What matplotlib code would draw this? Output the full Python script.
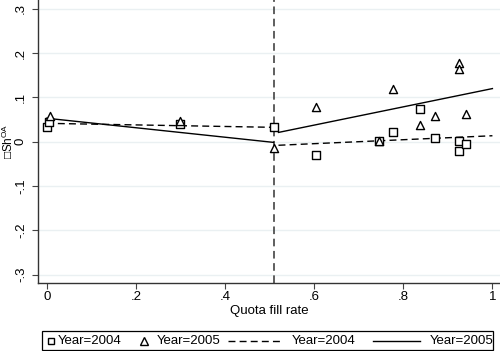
import matplotlib
matplotlib.use("Agg")
import matplotlib.pyplot as plt
from matplotlib.lines import Line2D
from matplotlib.patches import Rectangle

plt.rcParams['font.family'] = ['Liberation Sans', 'DejaVu Sans']
plt.rcParams['mathtext.fontset'] = 'custom'
plt.rcParams['mathtext.rm'] = 'Liberation Sans'
plt.rcParams['mathtext.it'] = 'Liberation Sans'
plt.rcParams['mathtext.default'] = 'regular'

# Data
x_2004 = [0.0, 0.005, 0.30, 0.509, 0.604, 0.745, 0.777, 0.838, 0.871, 0.925, 0.925, 0.941]
y_2004 = [0.034, 0.045, 0.039, 0.034, -0.031, 0.001, 0.023, 0.075, 0.009, 0.0015, -0.021, -0.006]
x_2005 = [0.0075, 0.30, 0.509, 0.604, 0.745, 0.777, 0.838, 0.871, 0.925, 0.925, 0.941]
y_2005 = [0.058, 0.047, -0.014, 0.078, 0.001, 0.119, 0.038, 0.059, 0.177, 0.164, 0.062]

fit04_left_x = [0.0, 0.509]
fit04_left_y = [0.0415, 0.0325]
fit04_right_x = [0.52, 1.0]
fit04_right_y = [-0.008, 0.0135]
fit05_left_x = [0.0, 0.509]
fit05_left_y = [0.053, -0.0015]
fit05_right_x = [0.52, 1.0]
fit05_right_y = [0.021, 0.120]

cutoff = 0.511
xticks = [0, 0.2, 0.4, 0.6, 0.8, 1.0]
xticklabels = ['0', '.2', '.4', '.6', '.8', '1']
yticks = [-0.3, -0.2, -0.1, 0, 0.1, 0.2, 0.3]
yticklabels = ['-.3', '-.2', '-.1', '0', '.1', '.2', '.3']

FS = 9.5
W, H = 500, 351
fig = plt.figure(figsize=(W / 100, H / 100), dpi=100)
ax = fig.add_axes([38 / W, 1 - 283 / H, (500 - 38) / W, 283 / H])

for yv in yticks:
    ax.axhline(yv, color='#eaf0f2', lw=1.0, zorder=0)

ax.axvline(cutoff, color='#333333', lw=1.1, dashes=(5, 3), zorder=1)

ax.plot(fit04_left_x, fit04_left_y, color='black', lw=1.0, dashes=(5, 3), zorder=2)
ax.plot(fit04_right_x, fit04_right_y, color='black', lw=1.0, dashes=(5, 3), zorder=2)
ax.plot(fit05_left_x, fit05_left_y, color='black', lw=1.0, zorder=2)
ax.plot(fit05_right_x, fit05_right_y, color='black', lw=1.0, zorder=2)

ax.scatter(x_2004, y_2004, marker='s', s=28, facecolors='white', edgecolors='black', linewidths=1.0, zorder=3)
ax.scatter(x_2005, y_2005, marker='^', s=34, facecolors='white', edgecolors='black', linewidths=1.0, zorder=3)

ax.set_xlim(-0.0196, 1.017)
ax.set_ylim(-0.319, 0.32)
ax.set_xticks(xticks)
ax.set_xticklabels(xticklabels, fontsize=FS)
ax.set_yticks(yticks)
ax.set_yticklabels(yticklabels, fontsize=FS, rotation=90, va='center')
ax.tick_params(direction='out', length=4, width=0.8, color='#444444')
ax.tick_params(axis='x', pad=2)
ax.tick_params(axis='y', pad=4)
for s in ['top', 'right']:
    ax.spines[s].set_visible(False)
for s in ['left', 'bottom']:
    ax.spines[s].set_color('#333333')
    ax.spines[s].set_linewidth(1.0)

ax.set_xlabel('Quota fill rate', fontsize=FS)
ax.xaxis.set_label_coords(0.5, (283 - 311) / 283, transform=ax.transAxes)
ax.xaxis.label.set_va('center')
ax.set_ylabel('\u25a1Sh$^{OA}$', fontsize=8.5)
ax.yaxis.set_label_coords((8.5 - 38) / 462, (283 - 141.7) / 283)
ax.yaxis.label.set_va('center')

# Legend (drawn manually to match layout)
def fx(px):
    return px / W

def fy(py):
    return 1 - py / H

fig.add_artist(Rectangle((fx(42), fy(350)), fx(493) - fx(42), fy(331) - fy(350),
                         transform=fig.transFigure, fill=False, edgecolor='black', lw=0.9))
ly = fy(341)
fig.add_artist(Line2D([fx(50.7)], [ly], marker='s', markersize=5, markerfacecolor='white',
                      markeredgecolor='black', markeredgewidth=1.0, transform=fig.transFigure))
fig.text(fx(58), ly, 'Year=2004', fontsize=FS, va='center', ha='left')
fig.add_artist(Line2D([fx(144.3)], [ly], marker='^', markersize=5.5, markerfacecolor='white',
                      markeredgecolor='black', markeredgewidth=1.0, transform=fig.transFigure))
fig.text(fx(156.7), ly, 'Year=2005', fontsize=FS, va='center', ha='left')
fig.add_artist(Line2D([fx(227.7), fx(283)], [ly, ly], color='black', lw=1.0, dashes=(5, 3),
                      transform=fig.transFigure))
fig.text(fx(291.7), ly, 'Year=2004', fontsize=FS, va='center', ha='left')
fig.add_artist(Line2D([fx(372.7), fx(420)], [ly, ly], color='black', lw=1.0,
                      transform=fig.transFigure))
fig.text(fx(430), ly, 'Year=2005', fontsize=FS, va='center', ha='left')

fig.savefig('out.png', dpi=100)
